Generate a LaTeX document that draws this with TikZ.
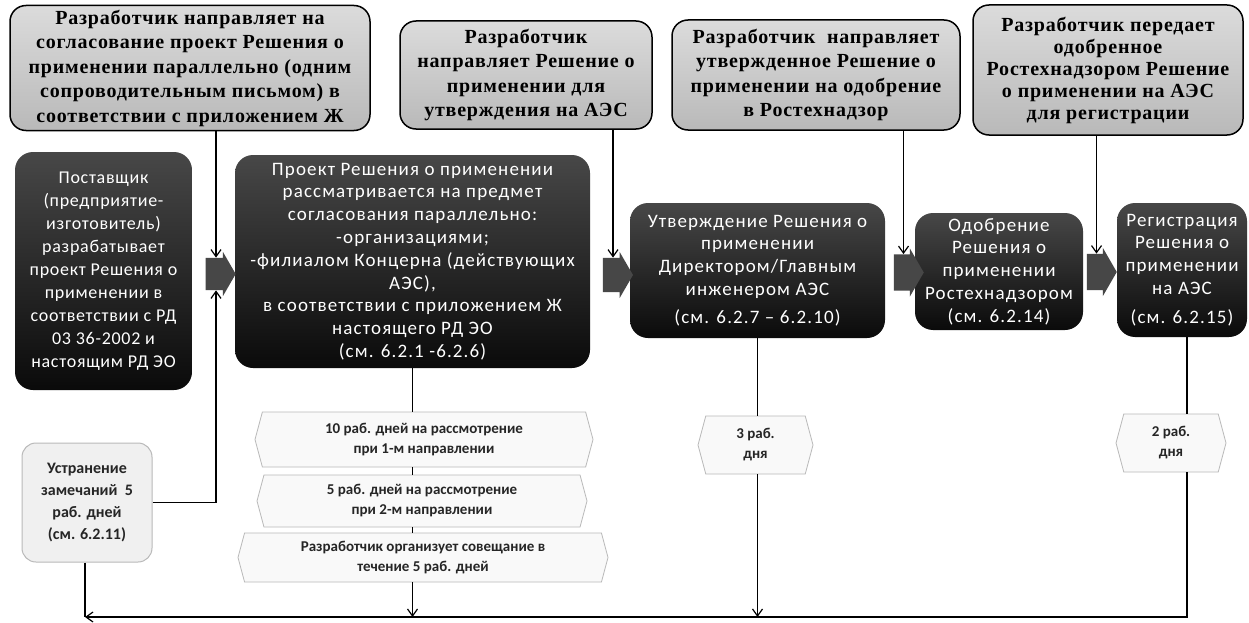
\documentclass[tikz,border=0pt]{standalone}
\usepackage{fontspec}
\setmainfont[LetterSpace=4]{Liberation Serif}
\newfontfamily\calfont[LetterSpace=6]{Carlito}
\newfontfamily\calfontb[LetterSpace=4]{Carlito}
\newfontfamily\hexfont{Carlito}
\usetikzlibrary{shapes.symbols,shapes.arrows,arrows.meta,calc}
\tikzset{
  topbox/.style={draw=black, line width=1.5pt, top color=gray!28, bottom color=gray!55,
    rounded corners=16pt, align=center, inner sep=2pt,
    font=\bfseries\fontsize{20}{24.5}\selectfont},
  darkbox/.style={top color=black!72, bottom color=black!96, rounded corners=18pt,
    align=center, inner sep=2pt, text=white,
    font=\calfont\fontsize{19}{22.8}\selectfont},
  hexbox/.style={signal, signal to=west and east, signal pointer angle=150,
    draw=gray!55, line width=0.8pt, fill=gray!5, align=center, inner sep=1pt,
    font=\hexfont\bfseries\fontsize{15}{20}\selectfont, text=black!85},
  fixbox/.style={draw=gray!55, line width=1pt, fill=gray!12, rounded corners=14pt,
    align=center, inner sep=2pt, text=black!85,
    font=\hexfont\bfseries\fontsize{16}{22}\selectfont},
  blockarr/.style={single arrow, fill=black!72, inner sep=0pt,
    minimum height=30pt, single arrow head extend=6pt, single arrow tip angle=120},
  ln/.style={line width=1.4pt, draw=black},
  arr/.style={ln, -{Straight Barb[length=7pt,width=10pt,line width=1.2pt]}}
}
\begin{document}
\begin{tikzpicture}[x=1pt,y=-1pt]
\useasboundingbox[fill=white] (0,0) rectangle (1249,623);
% top boxes
\node[topbox, minimum width=360pt, minimum height=125pt] (t1) at (190,68)
  {Разработчик направляет на\\согласование проект Решения о\\применении параллельно (одним\\сопроводительным письмом) в\\соответствии с приложением Ж};
\node[topbox, minimum width=252pt, minimum height=108pt] (t2) at (526,75)
  {Разработчик\\направляет Решение о\\применении для\\утверждения на АЭС};
\node[topbox, minimum width=288pt, minimum height=110pt] (t3) at (816,75)
  {Разработчик\ \ направляет\\утвержденное Решение о\\применении на одобрение\\в Ростехнадзор};
\node[topbox, minimum width=270pt, minimum height=130pt, font=\bfseries\fontsize{20}{22}\selectfont] (t4) at (1108,70)
  {Разработчик передает\\одобренное\\Ростехнадзором Решение\\о применении на АЭС\\для регистрации};
% dark boxes
\node[darkbox, minimum width=177pt, minimum height=238pt, font=\calfontb\fontsize{18}{23}\selectfont] (d1) at (103.5,271)
  {Поставщик\\(предприятие-\\изготовитель)\\разрабатывает\\проект Решения о\\применении в\\соответствии с РД\\03 36-2002 и\\настоящим РД ЭО};
\node[darkbox, minimum width=355pt, minimum height=213pt] (p) at (412.5,261.5)
  {Проект Решения о применении\\рассматривается на предмет\\согласования параллельно:\\-организациями;\\-филиалом Концерна (действующих\\АЭС),\\в соответствии с приложением Ж\\настоящего РД ЭО\\(см. 6.2.1 -6.2.6)};
\node[darkbox, minimum width=255pt, minimum height=135pt] (a) at (757.5,270.5)
  {Утверждение Решения о\\применении\\Директором/Главным\\инженером АЭС\\[5pt](см. 6.2.7 – 6.2.10)};
\node[darkbox, minimum width=168pt, minimum height=117pt] (o) at (999,271.5)
  {Одобрение\\Решения о\\применении\\Ростехнадзором\\(см. 6.2.14)};
\node[darkbox, minimum width=130pt, minimum height=134pt] (r) at (1182,270)
  {Регистрация\\Решения о\\применении\\на АЭС\\[6pt](см. 6.2.15)};
% block arrows
\node[blockarr] (ba1) at (216,274) {\rule{0pt}{32pt}};
\node[blockarr] (ba2) at (613,275) {\rule{0pt}{34pt}};
\node[blockarr] (ba3) at (903.5,272.5) {\rule{0pt}{36pt}};
\node[blockarr] (ba4) at (1096.5,272) {\rule{0pt}{36pt}};
% hexagons
\node[hexbox, minimum width=338pt, minimum height=55pt] (h1) at (424,439.5)
  {10 раб. дней на рассмотрение\\при 1-м направлении};
\node[hexbox, minimum width=330pt, minimum height=52pt] (h2) at (422,501)
  {5 раб. дней на рассмотрение\\при 2-м направлении};
\node[hexbox, minimum width=370pt, minimum height=49pt] (h3) at (423,557.5)
  {Разработчик организует совещание в\\течение 5 раб. дней};
\node[hexbox, minimum width=115pt, minimum height=58pt] (h4) at (755.5,445)
  {3 раб.\\дня};
\node[hexbox, minimum width=110pt, minimum height=58pt] (h5) at (1171,443)
  {2 раб.\\дня};
\node[fixbox, minimum width=130pt, minimum height=119pt] (u) at (87,502.5)
  {Устранение\\замечаний\ \ 5\\раб. дней\\(см. 6.2.11)};
\coordinate (bl) at (85,617);
\coordinate (br) at (1187,617);
% connectors
\draw[arr] (t1.south -| ba1) -- (ba1.north);
\draw[arr] (u.east) -| (ba1.south);
\draw[arr] (t2.south -| ba2) -- (ba2.north);
\draw[arr] (t3.south -| ba3) -- (ba3.north);
\draw[arr] (t4.south -| ba4) -- (ba4.north);
\draw[ln] (p.south) -- (p.south |- h1.north);
\draw[ln] (p.south |- h1.south) -- (p.south |- h2.north);
\draw[ln] (p.south |- h2.south) -- (p.south |- h3.north);
\draw[arr] (p.south |- h3.south) -- (p.south |- bl);
\draw[ln] (a.south) -- (a.south |- h4.north);
\draw[arr] (a.south |- h4.south) -- (a.south |- bl);
\draw[ln] (r.south -| br) -- (br |- h5.north);
\draw[arr] (br |- h5.south) -- (br) -- (bl);
\draw[ln] (u.south -| bl) -- (bl);
\end{tikzpicture}
\end{document}
